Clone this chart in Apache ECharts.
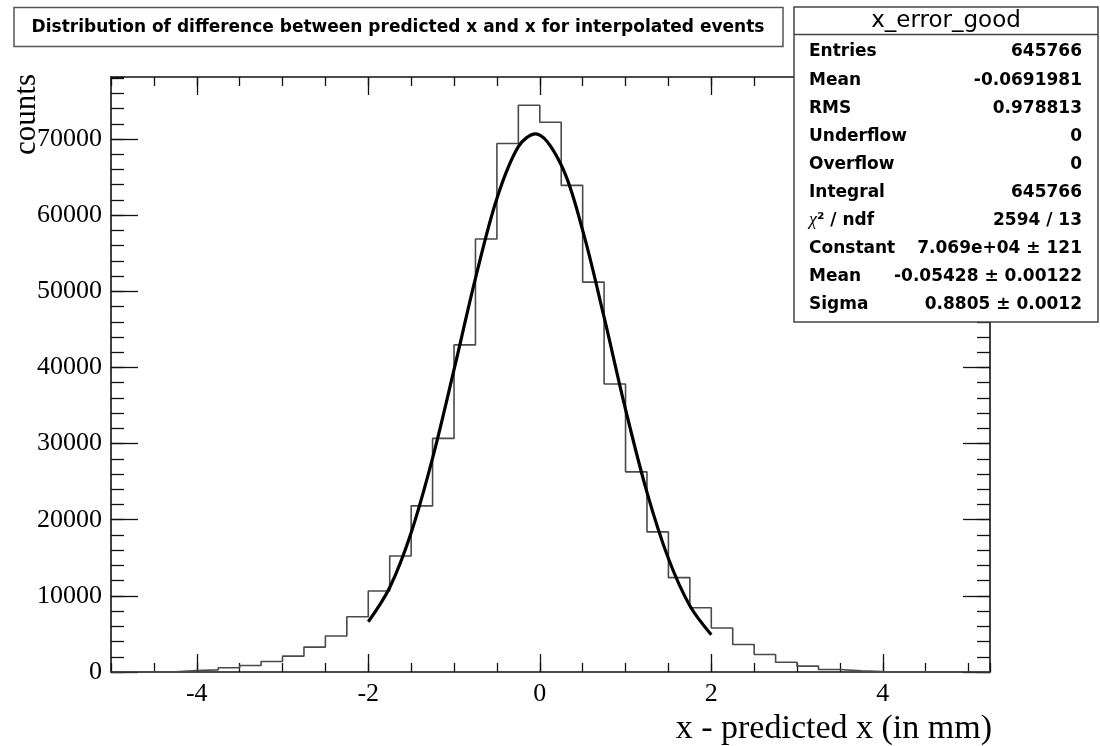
<!DOCTYPE html>
<html>
<head>
<meta charset="utf-8">
<script src="https://cdn.jsdelivr.net/npm/echarts@6/dist/echarts.min.js"></script>
<style>
  html, body { margin: 0; padding: 0; background: #fff; }
  #chart { width: 1100px; height: 746px; }
</style>
</head>
<body>
<div id="chart"></div>
<script>
// ---------------- data ----------------
const binLowEdges = [-5, -4.75, -4.5, -4.25, -4, -3.75, -3.5, -3.25, -3, -2.75, -2.5, -2.25, -2, -1.75, -1.5, -1.25,
  -1, -0.75, -0.5, -0.25, 0, 0.25, 0.5, 0.75, 1, 1.25, 1.5, 1.75, 2, 2.25, 2.5, 2.75, 3, 3.25, 3.5, 3.75,
  4, 4.25, 4.5, 4.75, 5];
const binUpperEnd = 5.25;
const binCounts = [0, 10, 40, 200, 285, 550, 855, 1380, 2080, 3270, 4720, 7260, 10630, 15240, 21820, 30680,
  42960, 56870, 69410, 74430, 72210, 63920, 51210, 37830, 26290, 18400, 12390, 8440, 5770, 3620, 2300, 1290,
  770, 330, 150, 60, 25, 10, 0, 0, 0];

const fitX = [-2, -1.75, -1.5, -1.25, -1, -0.75, -0.5, -0.25, -0.05, 0.25, 0.5, 0.75, 1, 1.25, 1.5, 1.75, 2];
const fitY = [6600, 11100, 18300, 28100, 39700, 51700, 62200, 69000, 70690, 66600, 58000, 46600, 34500, 23600, 14900, 8700, 4900];

const xMajorTicks = [-4, -2, 0, 2, 4];
const xRange = [-5, 5.25];
const yRange = [0, 78150];

const titleText = 'Distribution of difference between predicted x and x for interpolated events';
const xTitle = 'x - predicted x (in mm)';
const yTitle = 'counts';
const statsName = 'x_error_good';
const statsLabels = ['Entries', 'Mean', 'RMS', 'Underflow', 'Overflow', 'Integral', '{chi|χ}{b|² / ndf}', 'Constant', 'Mean', 'Sigma'];
const statsValues = ['645766', '-0.0691981', '0.978813', '0', '0', '645766', '2594 / 13', '7.069e+04 ± 121', '-0.05428 ± 0.00122', '0.8805 ± 0.0012'];

// ---------------- chart ----------------
const chart = echarts.init(document.getElementById('chart'), null, { renderer: 'canvas' });

const histData = binLowEdges.map((x, i) => [x, binCounts[i]]).concat([[binUpperEnd, binCounts[binCounts.length - 1]]]);
const fitData = fitX.map((x, i) => [x, fitY[i]]);

const frameColor = '#111';
const serif = 'Liberation Serif';

function xAxisDef(position, major) {
  const a = {
    type: 'value', position: position, min: xRange[0], max: xRange[1],
    splitLine: { show: false },
    axisLine: { show: major, onZero: false, lineStyle: { color: frameColor, width: 1.6 } },
    axisTick: { show: true, inside: true, length: major ? 18 : 9, lineStyle: { color: frameColor, width: 1.3 } },
    axisLabel: { show: false }
  };
  if (major) {
    a.axisTick.customValues = xMajorTicks;
    a.axisLabel = position === 'bottom'
      ? { show: true, customValues: xMajorTicks, margin: 9, color: '#000', fontFamily: serif, fontSize: 26,
          formatter: v => String(v) }
      : { show: false };
  } else {
    a.interval = 0.5;
  }
  return a;
}
function yAxisDef(position, major) {
  return {
    type: 'value', position: position, min: yRange[0], max: yRange[1],
    interval: major ? 10000 : 2000,
    splitLine: { show: false },
    axisLine: { show: major, onZero: false, lineStyle: { color: frameColor, width: 1.6 } },
    axisTick: { show: true, inside: true, length: major ? 27 : 13, lineStyle: { color: frameColor, width: 1.3 } },
    axisLabel: (major && position === 'left')
      ? { show: true, margin: 9, color: '#000', fontFamily: serif, fontSize: 26, showMaxLabel: false,
          formatter: v => String(v) }
      : { show: false }
  };
}

const Z = 100;
const statsTop = 7, statsLeft = 794, statsRight = 1098, statsBottom = 322;
const statsChildren = [
  { type: 'rect', z: Z, shape: { x: statsLeft, y: statsTop, width: statsRight - statsLeft, height: statsBottom - statsTop },
    style: { fill: '#fff', stroke: '#444', lineWidth: 1.5 } },
  { type: 'line', z: Z + 1, shape: { x1: statsLeft, y1: 34.5, x2: statsRight, y2: 34.5 }, style: { stroke: '#444', lineWidth: 1.5 } },
  { type: 'text', z: Z + 1, x: (statsLeft + statsRight) / 2, y: 21,
    style: { text: statsName, fontFamily: 'DejaVu Sans', fontSize: 23, fill: '#000', align: 'center', verticalAlign: 'middle' } }
];
statsLabels.forEach((lab, i) => {
  const y = 52 + i * 28.1;
  statsChildren.push({ type: 'text', z: Z + 1, x: 809, y: y,
    style: { text: lab, fontFamily: 'DejaVu Sans', fontWeight: 'bold', fontSize: 17, fill: '#000', align: 'left', verticalAlign: 'middle',
      rich: { chi: { fontFamily: serif, fontStyle: 'italic', fontSize: 18, fill: '#000' },
              b: { fontFamily: 'DejaVu Sans', fontWeight: 'bold', fontSize: 17, fill: '#000' } } } });
  statsChildren.push({ type: 'text', z: Z + 1, x: 1082, y: y,
    style: { text: statsValues[i], fontFamily: 'DejaVu Sans', fontWeight: 'bold', fontSize: 17, fill: '#000', align: 'right', verticalAlign: 'middle' } });
});

const option = {
  animation: false,
  backgroundColor: '#fff',
  grid: { left: 111, right: 110, top: 77, bottom: 74, containLabel: false },
  xAxis: [xAxisDef('bottom', true), xAxisDef('bottom', false), xAxisDef('top', true), xAxisDef('top', false)],
  yAxis: [yAxisDef('left', true), yAxisDef('left', false), yAxisDef('right', true), yAxisDef('right', false)],
  series: [
    { type: 'line', name: 'x_error_good', xAxisIndex: 0, yAxisIndex: 0, data: histData, step: 'end',
      symbol: 'none', lineStyle: { color: '#4a4a4a', width: 1.6 }, z: 3 },
    { type: 'line', name: 'gaus fit', xAxisIndex: 0, yAxisIndex: 0, data: fitData, smooth: 0.35,
      symbol: 'none', lineStyle: { color: '#000', width: 3.2 }, z: 4 }
  ],
  graphic: [
    { type: 'group', zlevel: 1, z: Z, children: [
      { type: 'rect', z: Z, shape: { x: 14, y: 7.5, width: 769, height: 39 }, style: { fill: '#fff', stroke: '#555', lineWidth: 1.5 } },
      { type: 'text', z: Z + 1, x: 398, y: 27.5,
        style: { text: titleText, fontFamily: 'DejaVu Sans', fontWeight: 'bold', fontSize: 17, fill: '#000', align: 'center', verticalAlign: 'middle' } }
    ] },
    { type: 'group', zlevel: 1, z: Z, children: statsChildren },
    { type: 'text', zlevel: 1, z: Z, x: 992, y: 729,
      style: { text: xTitle, fontFamily: serif, fontSize: 34, fill: '#000', align: 'right', verticalAlign: 'middle' } },
    { type: 'text', zlevel: 1, z: Z, x: 27, y: 74, rotation: Math.PI / 2,
      style: { text: yTitle, fontFamily: serif, fontSize: 31, fill: '#000', align: 'right', verticalAlign: 'middle' } }
  ]
};
chart.setOption(option);
</script>
</body>
</html>
